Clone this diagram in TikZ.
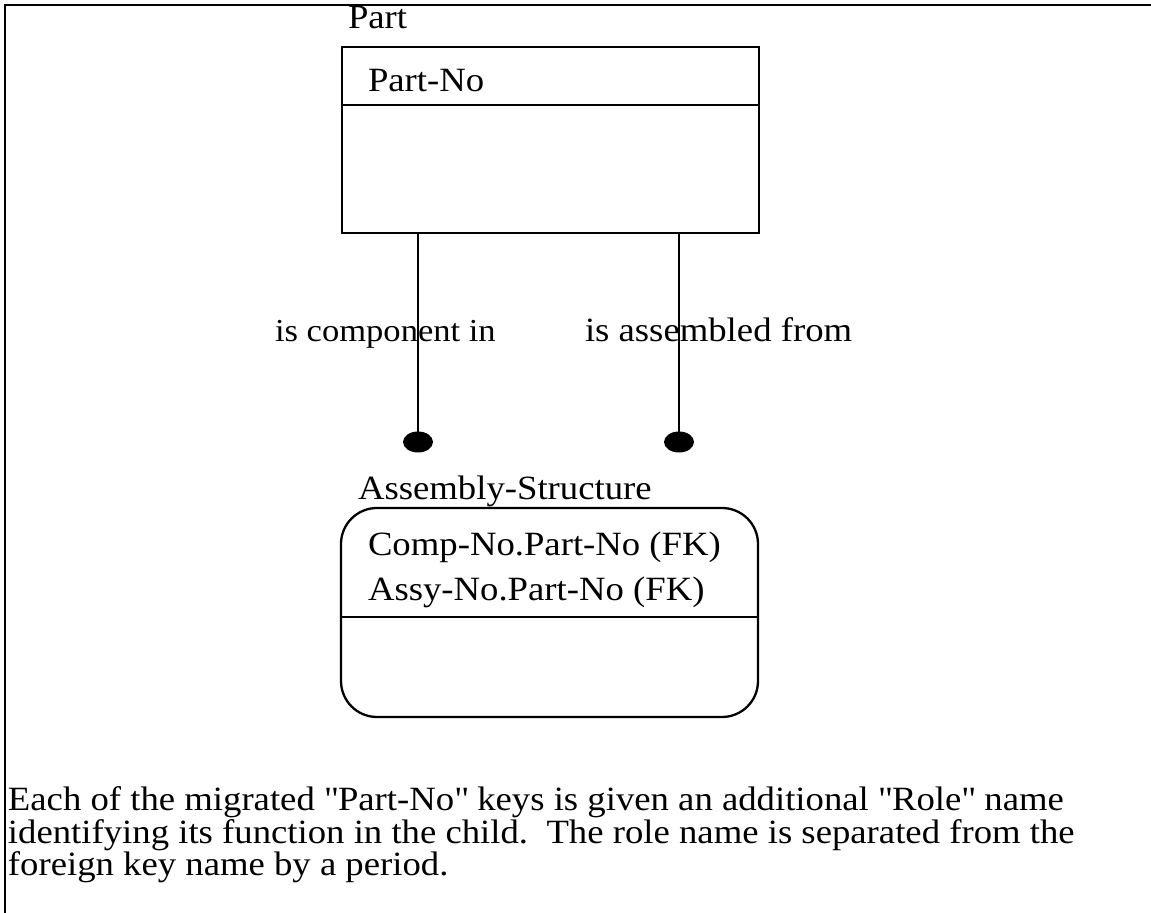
\documentclass[tikz,border=0pt]{standalone}
\usepackage{fontspec}
\setmainfont[FakeStretch=1.08]{Liberation Serif}
\usetikzlibrary{shapes.geometric}
\newcommand{\dq}{\textquotedbl}
\begin{document}
\begin{tikzpicture}[x=0.5pt,y=-0.5pt,
  every node/.style={inner sep=0pt,outer sep=0pt},
  txt/.style={anchor=base west,font=\fontsize{17}{17}\selectfont},
  entity/.style={draw,line width=1.15pt,minimum width=208.5pt,minimum height=93pt},
  link/.style={line width=1.1pt},
  dotend/.style={ellipse,fill=black,minimum width=15pt,minimum height=10.5pt},
  frame/.style={line width=1.3pt}]
  \useasboundingbox (0,0) rectangle (1151,913);
  % outer frame: top and left edges only
  \coordinate (fTL) at (5,5);
  \coordinate (fTR) at (1151,5);
  \coordinate (fBL) at (5,913);
  \draw[frame] (fTR) -- (fTL) -- (fBL);

  % parent entity
  \node[txt] (partname) at (348,29) {Part};
  \node[entity] (part) at (550.5,140) {};
  \coordinate (partdiv) at (0,105);
  \draw[line width=1.15pt] (part.west |- partdiv) -- (part.east |- partdiv);
  \node[txt] (partkey) at (368,92) {Part-No};

  % child entity with rounded corners
  \node[txt] (asname) at (358,500) {Assembly-Structure};
  \node[entity,rounded corners=18pt,minimum height=104.5pt] (as) at (549.5,612.5) {};
  \coordinate (asdiv) at (0,617);
  \draw[line width=1.15pt] (as.west |- asdiv) -- (as.east |- asdiv);
  \node[txt] (askey1) at (368,556) {Comp-No.Part-No (FK)};
  \node[txt] (askey2) at (368,601) {Assy-No.Part-No (FK)};

  % relationship ends
  \node[dotend] (dotL) at (418,442) {};
  \node[dotend] (dotR) at (679,442) {};
  \node[txt,font=\fontsize{16}{16}\selectfont] (relL) at (275,342) {is component in};
  \node[txt] (relR) at (585,342) {is assembled from};
  \draw[link] (part.south -| dotL) -- (dotL.center);
  \draw[link] (part.south -| dotR) -- (dotR.center);

  % note
  \node[txt] (note1) at (8,811) {Each of the migrated \dq Part-No\dq{} keys is given an additional \dq Role\dq{} name};
  \node[txt] (note2) at (8,843) {identifying its function in the child.\ \ The role name is separated from the};
  \node[txt] (note3) at (8,875) {foreign key name by a period.};
\end{tikzpicture}
\end{document}
